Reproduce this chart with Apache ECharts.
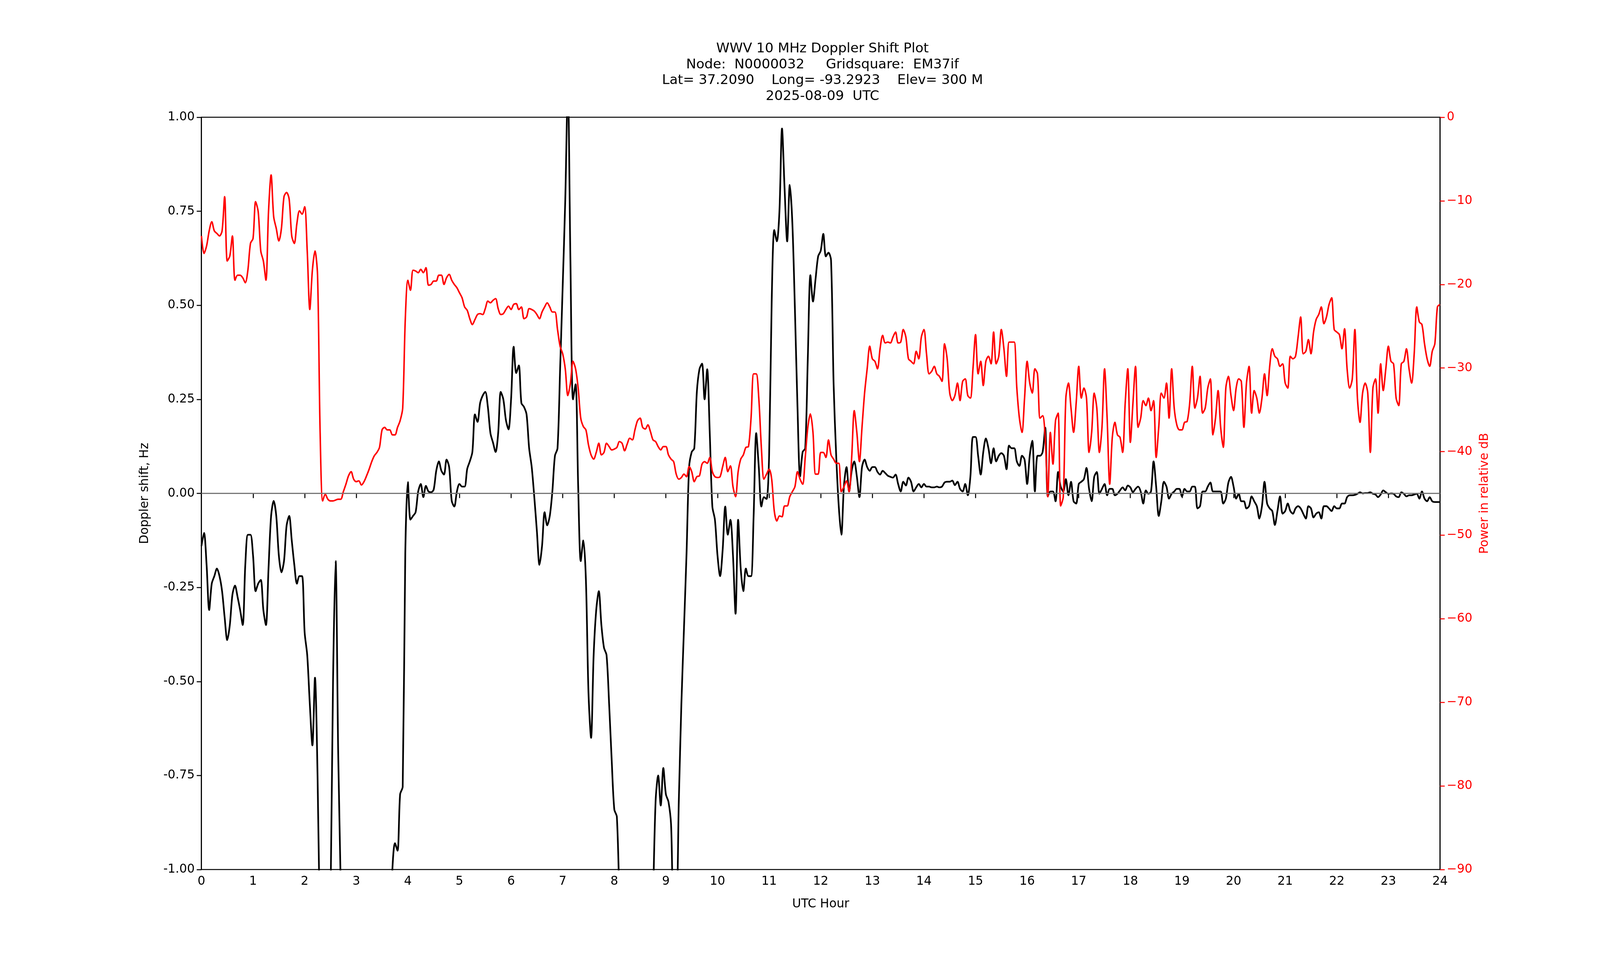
<!DOCTYPE html>
<html>
<head>
<meta charset="utf-8">
<script src="https://cdn.jsdelivr.net/npm/echarts@6/dist/echarts.min.js"></script>
<style>
html,body{margin:0;padding:0;background:#fff;overflow:hidden;}
#chart{width:100vw;height:100vh;}
</style>
</head>
<body>
<div id="chart"></div>
<script>
// sample step in hours
var STEP = 0.05;

// Doppler shift (Hz), one row per UTC hour (20 samples each), plus the 24:00 sample
var doppler = [
	-0.14,-0.105,-0.19,-0.31,-0.24,-0.22,-0.20,-0.22,-0.26,-0.33,-0.39,-0.35,-0.27,-0.245,-0.275,-0.31,-0.35,-0.19,-0.11,-0.11,
	-0.165,-0.26,-0.24,-0.23,-0.31,-0.35,-0.20,-0.06,-0.02,-0.06,-0.165,-0.21,-0.18,-0.086,-0.06,-0.125,-0.19,-0.24,-0.22,-0.22,
	-0.37,-0.43,-0.56,-0.67,-0.49,-0.75,-1.2,-1.5,-1.5,-1.4,-1.1,-0.5,-0.18,-0.69,-1.05,-1.5,-1.5,-1.5,-1.5,-1.5,
	-1.5,-1.5,-1.5,-1.5,-1.5,-1.5,-1.5,-1.5,-1.5,-1.5,-1.5,-1.5,-1.5,-1.2,-1.0,-0.93,-0.95,-0.80,-0.78,-0.16,
	0.03,-0.07,-0.06,-0.05,0.005,0.025,-0.01,0.02,0.005,0.003,0.01,0.06,0.085,0.06,0.05,0.09,0.07,-0.02,-0.035,0.005,
	0.025,0.018,0.018,0.065,0.085,0.11,0.21,0.19,0.24,0.26,0.27,0.23,0.16,0.135,0.11,0.16,0.27,0.25,0.195,0.17,
	0.25,0.39,0.32,0.34,0.24,0.23,0.21,0.12,0.07,-0.01,-0.10,-0.19,-0.14,-0.05,-0.085,-0.06,0.005,0.10,0.12,0.33,
	0.55,0.78,1.08,0.62,0.25,0.29,0.02,-0.18,-0.125,-0.23,-0.53,-0.65,-0.43,-0.31,-0.26,-0.35,-0.41,-0.43,-0.56,-0.71,
	-0.84,-0.86,-1.1,-1.5,-1.5,-1.5,-1.5,-1.5,-1.5,-1.5,-1.5,-1.5,-1.5,-1.5,-1.5,-1.1,-0.82,-0.75,-0.83,-0.73,
	-0.80,-0.82,-0.88,-1.1,-1.1,-0.82,-0.56,-0.36,-0.16,0.07,0.11,0.12,0.27,0.33,0.345,0.25,0.33,0.16,-0.035,-0.07,
	-0.165,-0.22,-0.15,-0.035,-0.11,-0.07,-0.165,-0.32,-0.07,-0.20,-0.26,-0.20,-0.22,-0.22,-0.06,0.16,0.07,-0.035,-0.01,-0.015,
	0.10,0.51,0.70,0.67,0.75,0.97,0.81,0.67,0.82,0.72,0.49,0.23,0.045,0.11,0.12,0.36,0.58,0.51,0.57,0.63,
	0.645,0.69,0.63,0.64,0.62,0.29,0.10,-0.035,-0.11,0.02,0.07,0.005,0.06,0.085,0.045,-0.01,0.07,0.09,0.07,0.06,
	0.07,0.07,0.057,0.05,0.06,0.054,0.047,0.044,0.042,0.05,0.025,0.005,0.031,0.021,0.042,0.031,0.005,0.016,0.025,0.016,
	0.025,0.018,0.018,0.016,0.016,0.018,0.016,0.018,0.029,0.031,0.031,0.034,0.022,0.031,0.012,0.005,0.025,-0.005,0.044,0.15,
	0.15,0.10,0.05,0.11,0.146,0.12,0.08,0.12,0.085,0.10,0.107,0.10,0.064,0.127,0.12,0.12,0.085,0.073,0.10,0.09,
	0.025,0.10,0.14,0.005,0.10,0.10,0.11,0.175,-0.008,0.005,0.005,-0.021,0.057,0.018,0.005,0.038,-0.005,0.031,-0.021,-0.027,
	0.025,0.031,0.038,0.068,0.012,-0.021,0.044,0.057,-0.001,0.012,0.025,-0.005,0.012,0.012,-0.005,-0.001,0.008,0.016,0.008,0.021,
	0.016,0.003,0.012,0.018,0.005,-0.027,0.008,-0.001,0.005,0.085,0.018,-0.06,-0.021,0.031,0.018,-0.014,-0.001,0.005,0.012,0.012,
	-0.008,0.012,0.005,0.005,0.018,0.018,-0.04,-0.034,0.005,0.005,0.018,0.029,0.005,0.005,0.005,0.005,-0.027,-0.014,0.029,0.044,
	0.018,-0.014,-0.001,-0.021,-0.021,-0.04,-0.034,-0.008,-0.021,-0.034,-0.067,-0.034,0.031,-0.027,-0.04,-0.047,-0.084,-0.047,-0.008,-0.054,
	-0.047,-0.027,-0.047,-0.054,-0.04,-0.034,-0.04,-0.054,-0.067,-0.034,-0.04,-0.064,-0.054,-0.05,-0.067,-0.034,-0.034,-0.04,-0.047,-0.034,
	-0.04,-0.04,-0.027,-0.027,-0.01,-0.005,-0.005,-0.004,-0.001,0.003,0,0.001,0.001,0.003,-0.001,-0.003,-0.01,-0.003,0.008,0.003,
	-0.001,0,-0.001,-0.008,-0.01,0.003,-0.001,-0.008,-0.005,-0.005,-0.003,-0.001,-0.014,0.005,-0.014,-0.021,-0.01,-0.021,-0.023,-0.023,
	-0.023
];

// received power (relative dB), same sampling
var power = [
	-14.2,-16.3,-15.4,-13.6,-12.5,-13.6,-13.9,-14.2,-13.6,-9.5,-17.2,-16.6,-14.2,-19.5,-18.9,-18.9,-19.2,-19.8,-18.3,-15.1,
	-14.5,-10.1,-11.3,-16.0,-17.2,-19.5,-11.3,-6.9,-11.9,-13.3,-14.8,-13.3,-9.5,-9.0,-9.8,-14.2,-15.1,-12.7,-11.2,-11.6,
	-10.7,-16.0,-23.0,-18.3,-16.0,-18.9,-37.7,-45.9,-45.1,-45.7,-45.9,-45.9,-45.8,-45.7,-45.7,-44.8,-43.9,-42.9,-42.4,-43.3,
	-43.6,-43.5,-44.0,-43.6,-42.9,-42.1,-41.2,-40.5,-40.1,-39.5,-37.4,-37.1,-37.4,-37.4,-38.0,-38.0,-37.1,-36.3,-34.8,-24.2,
	-19.5,-20.7,-18.3,-18.4,-18.6,-18.2,-18.6,-18.0,-20.1,-20.0,-19.6,-19.6,-18.9,-18.9,-20.0,-19.2,-18.8,-19.5,-20.0,-20.4,
	-21.0,-21.6,-22.7,-23.1,-24.1,-24.8,-24.2,-23.6,-23.5,-23.6,-22.9,-22.0,-22.2,-21.9,-21.7,-22.9,-23.6,-23.5,-23.0,-22.6,
	-23.0,-22.4,-22.3,-23.0,-22.7,-24.1,-23.9,-22.9,-23.0,-23.2,-23.6,-24.1,-23.3,-22.7,-22.2,-22.7,-23.3,-23.3,-25.4,-27.4,
	-28.3,-30.1,-33.3,-31.8,-29.2,-30.1,-32.4,-36.0,-37.0,-37.4,-39.2,-40.4,-40.9,-40.1,-39.0,-40.4,-40.1,-39.0,-39.4,-39.8,
	-39.7,-39.5,-38.8,-39.0,-39.9,-39.1,-38.4,-38.6,-37.4,-36.3,-36.0,-37.1,-37.3,-36.8,-37.6,-38.6,-38.8,-39.4,-39.8,-39.4,
	-39.4,-40.4,-40.9,-41.2,-42.7,-43.3,-43.1,-42.7,-43.0,-41.8,-42.4,-43.6,-43.0,-42.9,-41.5,-41.2,-41.4,-40.7,-42.4,-43.0,
	-43.1,-43.0,-41.8,-40.7,-42.4,-41.7,-44.2,-45.4,-42.4,-40.9,-40.4,-39.5,-39.4,-36.0,-30.7,-30.7,-33.6,-39.5,-43.3,-42.7,
	-42.1,-43.3,-47.1,-48.3,-47.7,-47.8,-46.5,-46.5,-45.4,-44.8,-44.2,-42.4,-43.3,-43.9,-40.7,-37.1,-35.5,-37.7,-42.7,-42.7,
	-40.1,-40.1,-40.7,-38.6,-40.4,-40.9,-41.4,-41.4,-44.8,-44.2,-43.5,-44.8,-40.7,-35.1,-37.7,-41.2,-37.1,-33.0,-30.1,-27.4,
	-28.9,-29.2,-30.1,-27.7,-26.1,-27.0,-26.9,-27.0,-26.3,-25.7,-27.0,-26.9,-25.4,-26.3,-28.9,-29.2,-29.5,-28.0,-28.9,-26.3,
	-25.4,-28.3,-30.7,-30.4,-29.8,-30.7,-31.0,-31.6,-27.1,-28.9,-33.0,-33.9,-33.3,-31.8,-33.9,-31.6,-31.3,-33.3,-33.6,-30.1,
	-26.0,-30.7,-29.2,-32.1,-29.2,-28.6,-29.5,-25.7,-29.5,-28.6,-25.4,-27.7,-31.0,-26.9,-26.9,-26.9,-32.4,-36.0,-37.7,-33.6,
	-29.2,-31.8,-33.0,-30.1,-30.7,-36.0,-35.7,-38.3,-45.4,-37.7,-41.5,-36.3,-35.4,-46.5,-45.4,-33.6,-31.8,-34.8,-37.7,-34.2,
	-29.8,-33.6,-32.4,-33.6,-40.1,-37.7,-33.0,-34.8,-40.1,-37.1,-30.1,-36.0,-43.9,-38.3,-36.5,-38.0,-38.3,-40.1,-34.2,-30.1,
	-38.9,-34.2,-29.8,-37.1,-36.0,-33.9,-34.5,-33.6,-35.1,-33.9,-40.7,-37.1,-33.0,-33.6,-31.8,-36.0,-30.1,-34.8,-36.8,-37.4,
	-37.4,-36.5,-36.4,-34.2,-29.8,-34.8,-33.6,-31.0,-35.4,-34.8,-32.4,-31.3,-38.0,-36.0,-32.7,-37.1,-39.5,-32.4,-31.0,-33.3,
	-35.1,-32.4,-31.3,-31.6,-37.1,-31.8,-29.8,-35.4,-32.7,-33.6,-35.4,-33.6,-30.7,-33.3,-29.8,-27.7,-28.6,-28.9,-29.8,-29.5,
	-31.8,-32.4,-28.6,-28.9,-28.6,-26.3,-23.9,-28.3,-28.0,-26.6,-28.3,-25.7,-24.2,-23.6,-22.7,-24.7,-23.9,-22.4,-21.6,-25.4,
	-25.7,-26.0,-27.7,-25.3,-30.1,-32.4,-31.3,-25.4,-33.6,-36.5,-33.0,-31.8,-33.0,-40.1,-32.4,-31.3,-35.4,-29.5,-32.7,-30.1,
	-27.4,-29.2,-29.5,-33.6,-34.5,-29.5,-29.2,-27.7,-30.1,-31.8,-28.3,-22.7,-24.5,-24.8,-27.1,-28.9,-29.8,-28.0,-27.1,-22.7,
	-22.4
];

var titleLines = [
	'WWV 10 MHz Doppler Shift Plot',
	'Node:  N0000032     Gridsquare:  EM37if',
	'Lat= 37.2090    Long= -93.2923    Elev= 300 M',
	'2025-08-09  UTC'
];

function pairs(vals){
	var out = [];
	for (var i = 0; i < vals.length; i++) {
		out.push([+(i*STEP).toFixed(2), vals[i]]);
	}
	return out;
}

var dom = document.getElementById('chart');
var W = dom.clientWidth, H = dom.clientHeight;
var s = W / 4750;   // layout was measured on a 4750px wide picture
var sy = H / 2500;
var myChart = echarts.init(dom);
var FONT = 'DejaVu Sans';
var fs = 36 * s;

var option = {
	animation: false,
	backgroundColor: '#fff',
	textStyle: {fontFamily: FONT},
	title: {
		text: titleLines.join('\n'),
		left: 2436 * s, top: 100 * sy, textAlign: 'center',
		textStyle: {fontFamily: FONT, fontSize: 40 * s, fontWeight: 'normal', color: '#000', lineHeight: 47 * s}
	},
	grid: {left: 598 * s, right: 475 * s, top: 300 * sy, bottom: 275 * sy, show: true, borderColor: '#000', borderWidth: 3 * s, backgroundColor: 'transparent'},
	xAxis: {
		type: 'value', min: 0, max: 24, interval: 1,
		name: 'UTC Hour', nameLocation: 'middle', nameGap: 85 * s,
		nameTextStyle: {fontFamily: FONT, fontSize: fs, color: '#000'},
		axisLine: {show: true, lineStyle: {color: '#000', width: 3 * s}},
		axisTick: {show: true, length: 14 * s, lineStyle: {color: '#000', width: 3 * s}},
		axisLabel: {fontFamily: FONT, fontSize: fs, color: '#000', margin: 18 * s},
		splitLine: {show: false}
	},
	yAxis: [
		{
			type: 'value', min: -1, max: 1, interval: 0.25, position: 'left',
			name: 'Doppler shift, Hz', nameLocation: 'middle', nameGap: 150 * s, nameRotate: 90,
			nameTextStyle: {fontFamily: FONT, fontSize: fs, color: '#000'},
			axisLine: {show: true, lineStyle: {color: '#000', width: 3 * s}},
			axisTick: {show: true, length: 14 * s, lineStyle: {color: '#000', width: 3 * s}},
			axisLabel: {fontFamily: FONT, fontSize: fs, color: '#000', margin: 20 * s, formatter: function(v){ return v.toFixed(2); }},
			splitLine: {show: false}
		},
		{
			type: 'value', min: -90, max: 0, interval: 10, position: 'right',
			name: 'Power in relative dB', nameLocation: 'middle', nameGap: 115 * s, nameRotate: 90,
			nameTextStyle: {fontFamily: FONT, fontSize: fs, color: '#ff0000'},
			axisLine: {show: true, lineStyle: {color: '#000', width: 3 * s}},
			axisTick: {show: true, length: 14 * s, lineStyle: {color: '#ff0000', width: 3 * s}},
			axisLabel: {fontFamily: FONT, fontSize: fs, color: '#ff0000', margin: 20 * s,
				formatter: function(v){ return v < 0 ? '\u2212' + (-v) : '' + v; }},
			splitLine: {show: false}
		}
	],
	series: [
		{
			name: 'Doppler', type: 'line', yAxisIndex: 0, data: pairs(doppler),
			smooth: 0.3, showSymbol: false, clip: true,
			lineStyle: {color: '#000', width: 5 * s},
			markLine: {
				silent: true, symbol: 'none', label: {show: false},
				lineStyle: {color: '#808080', width: 3 * s, type: 'solid'},
				data: [{yAxis: 0}]
			}
		},
		{
			name: 'Power', type: 'line', yAxisIndex: 1, data: pairs(power),
			smooth: 0.3, showSymbol: false, clip: true,
			lineStyle: {color: '#ff0000', width: 4.5 * s}
		}
	]
};
myChart.setOption(option);
</script>
</body>
</html>
